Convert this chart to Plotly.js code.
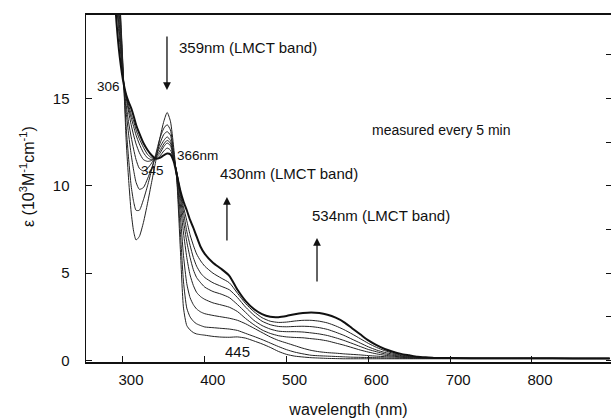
<!DOCTYPE html>
<html>
<head>
<meta charset="utf-8">
<script src="https://cdn.plot.ly/plotly-3.0.1.min.js"></script>
<style>html,body{margin:0;padding:0;background:#fff;}#chart{width:611px;height:419px;}</style>
</head>
<body>
<div id="chart"></div>
<script>
// wavelength grid (nm)
const wavelength = [280, 287, 292, 296, 301, 304, 307, 310, 313, 316, 320, 325, 330, 335, 340, 345, 350, 354, 358, 362, 366, 370, 374, 378, 382, 386, 390, 395, 400, 410, 420, 430, 440, 450, 460, 470, 480, 490, 500, 510, 520, 530, 540, 550, 560, 570, 580, 590, 600, 610, 620, 630, 640, 650, 660, 670, 680, 700, 750, 800, 850, 895];

// epsilon (10^3 M^-1 cm^-1), spectra recorded every 5 min (t0 = initial ... t7 = final)
const eps_t0 = [35, 28, 23.5, 20.8, 15.8, 12.5, 10.3, 8.5, 7.4, 6.9, 7.1, 7.9, 9.0, 10.2, 11.4, 12.7, 13.7, 14.2, 13.7, 12.2, 10.2, 6.5, 3.0, 2.0, 1.75, 1.6, 1.52, 1.48, 1.45, 1.38, 1.34, 1.33, 1.35, 1.28, 1.12, 0.95, 0.75, 0.52, 0.35, 0.25, 0.2, 0.16, 0.14, 0.12, 0.11, 0.1, 0.1, 0.1, 0.1, 0.1, 0.1, 0.1, 0.1, 0.1, 0.1, 0.1, 0.1, 0.1, 0.1, 0.1, 0.1, 0.1];
const eps_t1 = [34, 27, 23, 20.5, 15.8, 13.3, 11.5, 10.0, 9.1, 8.6, 8.6, 9.2, 10.0, 10.9, 11.8, 12.7, 13.3, 13.5, 13.2, 11.9, 10.3, 7.5, 4.5, 3.0, 2.5, 2.25, 2.1, 2.0, 1.92, 1.88, 1.84, 1.8, 1.72, 1.55, 1.38, 1.2, 1.0, 0.8, 0.62, 0.48, 0.38, 0.3, 0.27, 0.25, 0.23, 0.21, 0.19, 0.18, 0.17, 0.16, 0.15, 0.14, 0.13, 0.12, 0.12, 0.12, 0.12, 0.12, 0.12, 0.12, 0.12, 0.12];
const eps_t2 = [33, 26.5, 22.5, 20, 15.8, 14.2, 12.9, 11.8, 10.9, 10.2, 9.8, 9.9, 10.4, 11.0, 11.7, 12.4, 12.95, 13.1, 12.9, 11.8, 10.4, 8.4, 6.0, 4.4, 3.6, 3.2, 2.95, 2.78, 2.68, 2.58, 2.5, 2.42, 2.3, 2.1, 1.85, 1.6, 1.35, 1.15, 1.0, 0.85, 0.7, 0.58, 0.5, 0.45, 0.42, 0.38, 0.35, 0.32, 0.28, 0.25, 0.22, 0.2, 0.18, 0.16, 0.15, 0.14, 0.13, 0.12, 0.12, 0.12, 0.12, 0.12];
const eps_t3 = [32, 26, 22, 19.5, 15.8, 14.6, 13.6, 12.8, 12.1, 11.5, 11.0, 10.85, 11.0, 11.3, 11.7, 12.2, 12.6, 12.8, 12.6, 11.7, 10.6, 9.0, 7.3, 5.9, 4.9, 4.3, 3.9, 3.65, 3.5, 3.3, 3.18, 3.05, 2.8, 2.4, 2.05, 1.75, 1.55, 1.42, 1.35, 1.32, 1.3, 1.25, 1.2, 1.12, 1.0, 0.88, 0.74, 0.6, 0.48, 0.38, 0.3, 0.25, 0.2, 0.17, 0.15, 0.14, 0.13, 0.12, 0.12, 0.12, 0.12, 0.12];
const eps_t4 = [31, 25.5, 21.5, 19, 15.8, 15.0, 14.2, 13.5, 12.9, 12.4, 11.9, 11.5, 11.4, 11.45, 11.65, 12.0, 12.4, 12.6, 12.45, 11.6, 10.7, 9.4, 8.0, 6.8, 5.9, 5.2, 4.75, 4.45, 4.2, 3.95, 3.8, 3.6, 3.2, 2.75, 2.3, 2.0, 1.8, 1.68, 1.65, 1.65, 1.63, 1.58, 1.52, 1.43, 1.3, 1.15, 0.98, 0.8, 0.63, 0.5, 0.38, 0.3, 0.24, 0.2, 0.17, 0.15, 0.14, 0.13, 0.12, 0.12, 0.12, 0.12];
const eps_t5 = [30, 25, 21, 18.6, 15.8, 15.1, 14.4, 13.9, 13.4, 12.9, 12.4, 11.9, 11.6, 11.5, 11.6, 11.85, 12.25, 12.45, 12.3, 11.55, 10.75, 9.6, 8.5, 7.4, 6.6, 5.9, 5.4, 5.0, 4.75, 4.45, 4.25, 4.05, 3.6, 3.05, 2.6, 2.25, 2.05, 1.95, 1.93, 1.95, 1.96, 1.94, 1.88, 1.78, 1.62, 1.44, 1.22, 1.0, 0.78, 0.6, 0.46, 0.36, 0.28, 0.22, 0.18, 0.16, 0.15, 0.13, 0.12, 0.12, 0.12, 0.12];
const eps_t6 = [29.5, 24.5, 20.5, 18.2, 15.8, 15.15, 14.6, 14.1, 13.7, 13.2, 12.7, 12.2, 11.8, 11.6, 11.55, 11.7, 12.0, 12.16, 12.05, 11.5, 10.7, 9.7, 8.8, 8.0, 7.2, 6.6, 6.1, 5.7, 5.4, 5.0, 4.72, 4.45, 3.85, 3.25, 2.8, 2.45, 2.25, 2.18, 2.2, 2.26, 2.3, 2.3, 2.25, 2.15, 1.98, 1.77, 1.52, 1.25, 0.98, 0.75, 0.56, 0.42, 0.32, 0.25, 0.2, 0.17, 0.15, 0.13, 0.12, 0.12, 0.12, 0.12];
const eps_t7 = [29, 23, 19.4, 17.4, 15.8, 15.2, 14.8, 14.45, 14.0, 13.5, 13.0, 12.45, 12.05, 11.75, 11.55, 11.6, 11.75, 11.85, 11.8, 11.4, 10.6, 9.75, 9.1, 8.6, 8.05, 7.6, 7.1, 6.5, 6.1, 5.6, 5.25, 4.85, 4.05, 3.4, 2.95, 2.65, 2.5, 2.48, 2.55, 2.65, 2.72, 2.75, 2.72, 2.62, 2.45, 2.2, 1.85, 1.5, 1.15, 0.88, 0.66, 0.5, 0.38, 0.3, 0.22, 0.18, 0.15, 0.14, 0.13, 0.13, 0.12, 0.12];

const seriesList = [eps_t0, eps_t1, eps_t2, eps_t3, eps_t4, eps_t5, eps_t6, eps_t7];
const seriesNames = ['0 min', '5 min', '10 min', '15 min', '20 min', '25 min', '30 min', '35 min'];

const xTicks = [300, 400, 500, 600, 700, 800];
const yTicks = [0, 5, 10, 15];

const FONT = 'Liberation Sans, Arial, Helvetica, sans-serif';
const Y_RANGE = [-0.086, 19.78];

const lastIdx = seriesList.length - 1;
const traces = seriesList.map((ys, i) => ({
  x: wavelength,
  y: ys,
  type: 'scatter',
  mode: 'lines',
  name: seriesNames[i],
  // the final spectrum is plotted against the (identically scaled) right-hand axis so that its ticks are drawn
  yaxis: i === lastIdx ? 'y2' : 'y',
  line: {
    color: i === lastIdx ? '#111' : '#222',
    width: i === lastIdx ? 2 : 1,
    shape: 'spline',
    smoothing: 0.6
  },
  hoverinfo: 'skip'
}));

const txt = (text, x, y, size, xanchor) => ({
  text: text, x: x, y: y, xref: 'x', yref: 'y',
  showarrow: false, xanchor: xanchor || 'left', yanchor: 'middle',
  font: {family: FONT, size: size, color: '#111'}
});
const arrow = (x, y, ay) => ({
  text: '', x: x, y: y, xref: 'x', yref: 'y',
  showarrow: true, ax: 0, ay: ay, arrowhead: 2, arrowsize: 1.2,
  arrowwidth: 1.3, arrowcolor: '#111'
});

const layout = {
  width: 611, height: 419,
  margin: {l: 86, r: 0, t: 15, b: 57},
  paper_bgcolor: '#fff', plot_bgcolor: '#fff',
  showlegend: false,
  font: {family: FONT, size: 15, color: '#111'},
  xaxis: {
    range: [254.8, 896.6],
    tickvals: xTicks,
    ticktext: xTicks.map(String),
    ticks: 'inside', ticklen: 6, tickwidth: 1, tickcolor: '#111',
    ticklabelshift: 8,
    ticklabelstandoff: 3,
    showgrid: false, zeroline: false,
    showline: true, linecolor: '#111', linewidth: 2, mirror: true,
    tickfont: {family: FONT, size: 15, color: '#111'},
    title: {text: 'wavelength (nm)', font: {family: FONT, size: 16, color: '#111'}, standoff: 17}
  },
  yaxis: {
    range: Y_RANGE,
    tickvals: yTicks,
    ticktext: yTicks.map(String),
    ticks: 'inside', ticklen: 6, tickwidth: 1, tickcolor: '#111',
    ticklabelstandoff: 12,
    showgrid: false, zeroline: false,
    showline: true, linecolor: '#111', linewidth: 1.5, mirror: false,
    tickfont: {family: FONT, size: 15, color: '#111'}
  },
  yaxis2: {
    overlaying: 'y', side: 'right', anchor: 'x',
    range: Y_RANGE,
    tick0: 0, dtick: 2.5,
    ticks: 'inside', ticklen: 5, tickwidth: 1, tickcolor: '#111',
    showticklabels: false, showline: false, showgrid: false, zeroline: false
  },
  annotations: [
    {text: 'ε (10<sup>3</sup>M<sup>-1</sup>cm<sup>-1</sup>)', xref: 'paper', yref: 'paper',
     x: -0.1124, y: 0.536, textangle: -90, showarrow: false,
     xanchor: 'center', yanchor: 'middle',
     font: {family: FONT, size: 16, color: '#111'}},
    txt('359nm (LMCT band)', 366, 17.94, 15),
    arrow(353.8, 15.48, -55),
    txt('306', 281.7, 15.71, 13.5, 'center'),
    txt('345', 335.5, 10.9, 13.5, 'center'),
    txt('366nm', 363.6, 11.76, 13.5),
    txt('430nm (LMCT band)', 416.1, 10.73, 15),
    arrow(427.1, 9.36, 45),
    txt('534nm (LMCT band)', 528.6, 8.33, 15),
    arrow(537.2, 7.01, 45),
    txt('measured every 5 min', 602, 13.19, 14),
    txt('445', 440.6, 0.49, 15, 'center')
  ]
};

Plotly.newPlot('chart', traces, layout, {staticPlot: true, displayModeBar: false});
</script>
</body>
</html>
